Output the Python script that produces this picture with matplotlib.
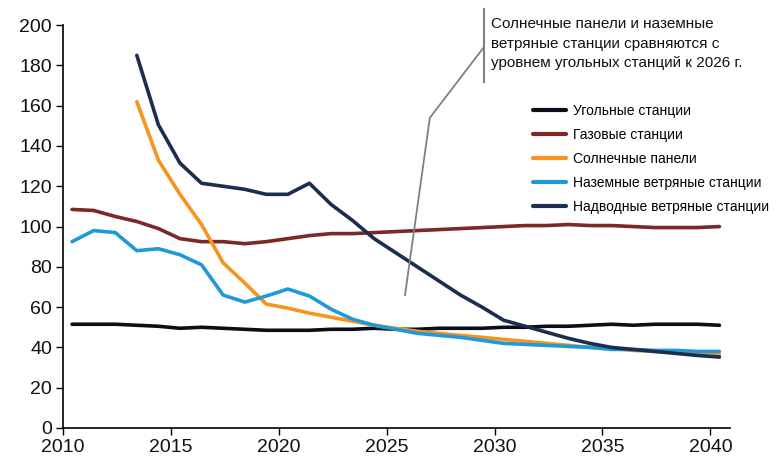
import numpy as np
import matplotlib
matplotlib.use("Agg")
import matplotlib.pyplot as plt

# --- Data ----------------------------------------------------------------
years = list(range(2010, 2041))

coal = [51.5, 51.5, 51.5, 51, 50.5, 49.5, 50, 49.5, 49, 48.5,
        48.5, 48.5, 49, 49, 49.5, 49, 49, 49.5, 49.5, 49.5,
        50, 50, 50.5, 50.5, 51, 51.5, 51, 51.5, 51.5, 51.5, 51]
gas = [108.5, 108, 105, 102.5, 99, 94, 92.5, 92.5, 91.5, 92.5,
       94, 95.5, 96.5, 96.5, 97, 97.5, 98, 98.5, 99, 99.5,
       100, 100.5, 100.5, 101, 100.5, 100.5, 100, 99.5, 99.5, 99.5, 100]
solar_years = list(range(2013, 2041))
solar = [162, 133, 116, 101, 82, 72, 61.5, 59.5, 57, 55,
         53, 51, 49.5, 48, 47, 46, 45, 44, 43, 42,
         41, 40, 39.5, 38.5, 38, 37.5, 37, 36.5]
onshore = [92.5, 98, 97, 88, 89, 86, 81, 66, 62.5, 65.5,
           69, 65.5, 59, 54, 51, 49, 47, 46, 45, 43.5,
           42, 41.5, 41, 40.5, 40, 39, 39, 38.5, 38.5, 38, 38]
offshore_years = list(range(2013, 2041))
offshore = [185, 150.5, 131.5, 121.5, 120, 118.5, 116, 116, 121.5, 111,
            103, 94, 87, 80, 73, 66, 60, 53.5, 50.5, 47.5,
            44.5, 42, 40, 39, 38, 37, 36, 35.2]

labels = ["Угольные станции", "Газовые станции", "Солнечные панели",
          "Наземные ветряные станции", "Надводные ветряные станции"]
colors = ["#0b0d17", "#7d2727", "#f7941d", "#1f9ad8", "#1b2d50"]

note = ("Солнечные панели и наземные\n"
        "ветряные станции сравняются с\n"
        "уровнем угольных станций к 2026 г.")

# --- Plot ----------------------------------------------------------------
plt.rcParams["font.family"] = ["Liberation Sans", "DejaVu Sans"]

fig = plt.figure(figsize=(7.78, 4.57), dpi=100)
ax = fig.add_axes([0.081, 0.0635, 0.857, 0.8815])

off = 0.42  # points sit between ticks (category axis)
series = [(years, coal), (years, gas), (solar_years, solar),
          (years, onshore), (offshore_years, offshore)]
for (xs, ys), lab, col in zip(series, labels, colors):
    ax.plot(np.array(xs) + off, ys, color=col, lw=2.6, label=lab,
            solid_capstyle="round", solid_joinstyle="round")

ax.set_xlim(2010, 2040.9)
ax.set_ylim(0, 200)
ax.set_xticks(range(2010, 2041, 5))
ax.set_yticks(range(0, 201, 20))
ax.tick_params(labelsize=14, length=5, width=1, direction="out", pad=3,
               labelcolor="#111111")
for s in ("top", "right"):
    ax.spines[s].set_visible(False)
for s in ("left", "bottom"):
    ax.spines[s].set_linewidth(1.2)

leg = ax.legend(loc="upper left", bbox_to_anchor=(0.705, 0.805),
                frameon=False, fontsize=10, handlelength=2.4,
                labelspacing=0.72, handletextpad=0.5, borderpad=0,
                borderaxespad=0)
for h in leg.legend_handles:
    h.set_linewidth(3)

# annotation callout
ax.plot([2025.85, 2027.0, 2029.5], [66, 154, 189], color="#808080",
        lw=1.3, clip_on=False)
ax.plot([2029.5, 2029.5], [172, 208], color="#808080", lw=1.5,
        clip_on=False)
ax.text(2029.85, 204, note, fontsize=11, va="top", ha="left",
        linespacing=1.5, color="#111111")

fig.savefig("out.png", dpi=100)
